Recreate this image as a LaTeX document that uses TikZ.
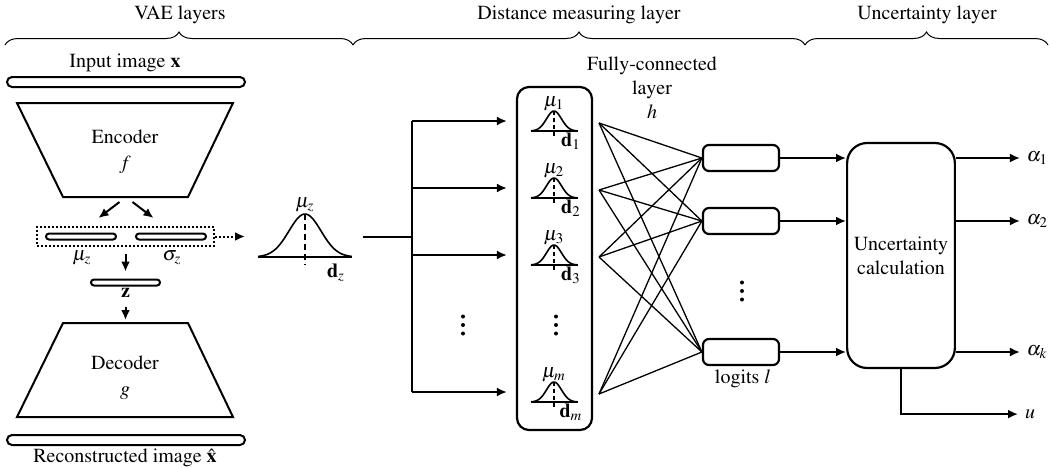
\documentclass[tikz,border=0pt]{standalone}
\usepackage[T1]{fontenc}
\usepackage{mathptmx}
\usetikzlibrary{arrows.meta,decorations.pathreplacing,calc}

\tikzset{
  arr/.style={line width=1pt, -{Latex[length=5pt,width=4.5pt]}},
  bar/.style={draw, line width=1pt, rounded corners=2.5pt, minimum height=5pt, inner sep=0pt},
  thinbar/.style={draw, line width=1pt, rounded corners=1.5pt, minimum height=3pt, inner sep=0pt},
  logit/.style={draw, line width=1.1pt, rounded corners=3pt, minimum width=38pt, minimum height=13pt, inner sep=0pt},
  layerbrace/.style={decorate, decoration={brace, amplitude=6.5pt}, line width=0.5pt},
  fc/.style={line width=0.65pt},
  curve/.style={line width=0.8pt},
}

\begin{document}
\begin{tikzpicture}[x=0.5pt, y=0.5pt]
\useasboundingbox (0,0) rectangle (1051,-467);

\node (tvae) at (180,-15) {VAE layers};
\node (tdist) at (579,-15) {Distance measuring layer};
\node (tunc) at (927,-15) {Uncertainty layer};
\draw[layerbrace] (5,-45) -- (353,-45);
\draw[layerbrace] (353,-45) -- (805,-45);
\draw[layerbrace] (805,-45) -- (1048,-45);

\node (inplab) at (125,-63) {Input image $\mathbf{x}$};
\node (inp) [bar, minimum width=119pt] at (126,-82) {};
\draw[line width=1pt] (17,-103) -- (233,-103) -- (188,-197) -- (63,-197) -- cycle;
\node (enclab) at (125,-137) {Encoder};
\node (f) at (125,-165) {$f$};
\coordinate (enc) at (125.5,-197);
\draw[arr] ([xshift=-3pt,yshift=-2.5pt]enc) -- ([xshift=-13.5pt,yshift=-10.5pt]enc);
\draw[arr] ([xshift=3.5pt,yshift=-2.5pt]enc) -- ([xshift=14pt,yshift=-10.5pt]enc);

\node (lat) [draw, line width=1pt, dash pattern=on 1pt off 1pt, minimum width=88.5pt, minimum height=9.5pt, inner sep=0pt] at (125.5,-236.5) {};
\node (mubar) [thinbar, minimum width=35pt] at (81,-236.5) {};
\node (sigbar) [thinbar, minimum width=35pt] at (171,-236.5) {};
\node (mulab) at (82,-258) {$\mu_z$};
\node (siglab) at (172,-258) {$\sigma_z$};
\node (zbar) [thinbar, minimum width=34.5pt] at (125.5,-282.5) {};
\node (zlab) at (125.5,-293) {$\mathbf{z}$};
\draw[arr, shorten <=3.5pt, shorten >=3.5pt] (lat.south -| zbar) -- (zbar.north);
\coordinate (dect) at (125.5,-323);
\draw[arr, shorten >=1.5pt] ([yshift=-1pt]zlab.south) -- (dect);
\draw[line width=1pt] (63,-323) -- (188,-323) -- (233,-417) -- (17,-417) -- cycle;
\node (declab) at (125,-363) {Decoder};
\node (g) at (125,-393) {$g$};
\node (rec) [bar, minimum width=119pt] at (126,-440) {};
\node (reclab) at (125,-458) {Reconstructed image $\hat{\mathbf{x}}$};

\node (gz) [minimum width=47pt, minimum height=26pt, inner sep=0pt] at (305,-237) {};
\coordinate (gzend) at (245,-236.5);
\draw[arr, dash pattern=on 1pt off 1pt] (lat.east) -- (gzend);
\draw[curve] (258,-257) -- (352,-257);
\draw[curve] plot[domain=-47:47, samples=60] ({305+(\x)}, {-257+43*exp(-((\x)*(\x))/512)});
\draw[curve, dash pattern=on 3pt off 2pt] (305,-214) -- (305,-265);
\node (muz) at (305,-205) {$\mu_z$};
\node (dz) at (336,-273) {$\mathbf{d}_z$};

\coordinate (fan) at (412,-237);
\draw[line width=1pt] ([xshift=5.5pt]gz.east) -- (fan);
\node (dbox) [draw, line width=1.1pt, rounded corners=6pt, minimum width=37.5pt, minimum height=171.5pt] at (554.5,-258.5) {};

\foreach \r/\i in {121/1,188/2,255/3,392/m} {
  \coordinate (r\i) at (470,-\r);
  \coordinate (s\i) at (599,-\r-2);
  \draw[arr, shorten >=4.5pt] (fan |- r\i) -- (dbox.west |- r\i);
  \draw[curve] (531,-\r-10) -- (578,-\r-10);
  \draw[curve] plot[domain=-23:23, samples=40] ({554+(\x)}, {-\r-10+20*exp(-((\x)*(\x))/112.5)});
  \draw[curve, dash pattern=on 2pt off 1.5pt] (554,-\r+10) -- (554,-\r-15);
  \node (mu\i) at (554,-\r+17) {$\mu_\i$};
  \node (d\i) at (571,-\r-20) {$\mathbf{d}_\i$};
}
\draw[line width=1pt] (fan |- r1) -- (fan |- rm);

\coordinate (vd1) at (463,-325);
\coordinate (vd2) at (556,-325);
\coordinate (vd3) at (742,-291);
\foreach \c in {vd1,vd2,vd3}
  \foreach \dy in {-8.5,0,8.5}
    \fill ([yshift=\dy*0.5pt]\c) circle (2);

\node (fclab) [align=center] at (652,-88) {Fully-connected\\layer\\$h$};
\node (l1) [logit] at (741,-158) {};
\node (l2) [logit] at (741,-221) {};
\node (lk) [logit] at (741,-352) {};
\node (loglab) at (743,-379) {logits $l$};
\foreach \i in {1,2,3,m}
  \foreach \j in {1,2,k}
    \draw[fc] (s\i) -- (l\j.west);

\node (unc) [draw, line width=1.1pt, rounded corners=10pt, minimum width=53pt, minimum height=112.5pt, align=center] at (901,-255.5) {Uncertainty\\calculation};
\foreach \j in {1,2,k} {
  \draw[arr] (l\j.east) -- (l\j.east -| unc.west);
  \draw[arr] (l\j.east -| unc.east) -- ++(32pt,0) node (a\j) [right, inner sep=3pt] {$\alpha_\j$};
}
\draw[arr] (unc.south) |- ++(58.5pt,-22.5pt) node (uout) [right, inner sep=3pt] {$u$};
\end{tikzpicture}
\end{document}
